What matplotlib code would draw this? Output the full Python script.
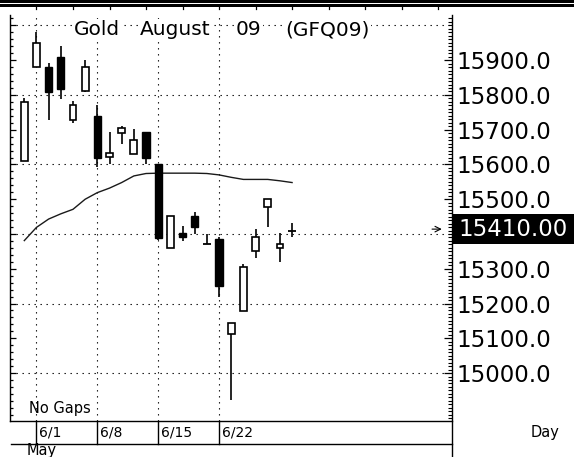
import matplotlib
matplotlib.use("Agg")
import matplotlib.pyplot as plt
from matplotlib.transforms import blended_transform_factory as btf, offset_copy
from matplotlib.lines import Line2D
from matplotlib.patches import Rectangle
import numpy as np

# ---------------- data ----------------
opens  = [15610, 15880, 15881, 15910, 15728, 15810, 15740, 15621, 15690, 15629, 15692, 15601,
          15361, 15402, 15452, 15371, 15385, 15112, 15179, 15351, 15479, 15361, 15410]
highs  = [15791, 15980, 15891, 15942, 15783, 15901, 15771, 15692, 15711, 15701, 15692, 15601,
          15452, 15423, 15464, 15400, 15392, 15143, 15313, 15414, 15501, 15402, 15433]
lows   = [15610, 15880, 15728, 15789, 15719, 15809, 15594, 15601, 15659, 15629, 15601, 15383,
          15361, 15380, 15400, 15371, 15220, 14922, 15179, 15330, 15419, 15320, 15391]
closes = [15781, 15950, 15809, 15818, 15771, 15880, 15620, 15632, 15704, 15671, 15620, 15388,
          15452, 15391, 15421, 15371, 15251, 15143, 15304, 15391, 15501, 15371, 15410]
ma     = [15381, 15419, 15443, 15458, 15471, 15500, 15519, 15532, 15548, 15567, 15574, 15575,
          15575, 15575, 15575, 15574, 15570, 15563, 15557, 15557, 15557, 15553, 15548]
date_labels = ["6/1", "6/8", "6/15", "6/22"]
date_idx = [1, 6, 11, 16]
ytick_vals = [15000, 15100, 15200, 15300, 15500, 15600, 15700, 15800, 15900]
last_price = 15410
title_words = ["Gold", "August", "09", "(GFQ09)"]
title_centers_px = [97, 175, 248.5, 327.5]

W, H = 574, 457
plt.rcParams['font.family'] = ['DejaVu Sans']

fig = plt.figure(figsize=(W / 100, H / 100), dpi=100)
fig.patch.set_facecolor('white')

def fx(p):
    return p / W

def fy(p):
    return (H - p) / H

ax = fig.add_axes([fx(10), fy(421), fx(452) - fx(10), fy(15) - fy(421)])
ax.set_xlim(-1.175, 35.14)
ax.set_ylim(14862, 16030)
ax.set_facecolor('white')

# dotted grid
dot = dict(color='black', lw=0.8, dashes=(1.2, 4.2), zorder=1)
for d in date_idx:
    ax.axvline(d, **dot)
for v in range(15000, 16001, 200):
    ax.axhline(v, **dot)

# candles
x = np.arange(len(opens))
o = np.array(opens, float); h = np.array(highs, float)
l = np.array(lows, float); c = np.array(closes, float)
ax.vlines(x, l, h, color='black', lw=1.2, zorder=2)
body_b = np.minimum(o, c)
body_h = np.abs(c - o)
doji = body_h == 0
up = (c > o) & ~doji
dn = (c < o) & ~doji
ax.bar(x[up], body_h[up], bottom=body_b[up], width=0.55, facecolor='white',
       edgecolor='black', lw=1.2, zorder=3)
ax.bar(x[dn], body_h[dn], bottom=body_b[dn], width=0.6, facecolor='black',
       edgecolor='black', lw=1.0, zorder=3)
ax.hlines(o[doji], x[doji] - 0.3, x[doji] + 0.3, color='black', lw=1.3, zorder=3)

# moving average
ax.plot(x, ma, color='#1a1a1a', lw=1.0, zorder=2)

# spines and ticks
ax.spines['top'].set_visible(False)
ax.spines['right'].set_visible(False)
for s in ('left', 'bottom'):
    ax.spines[s].set_linewidth(1.0)
ax.set_xticks([])
ax.set_yticks(np.arange(15000, 16001, 100))
ax.set_yticks(np.arange(14880, 16030, 20), minor=True)
ax.tick_params(axis='y', which='major', direction='in', length=4.5, width=0.9, labelleft=False)
ax.tick_params(axis='y', which='minor', direction='in', length=2.3, width=0.9)

ax2 = ax.twinx()
ax2.set_ylim(ax.get_ylim())
for s in ('top', 'left', 'bottom', 'right'):
    ax2.spines[s].set_visible(False)
ax2.set_yticks(ytick_vals)
ax2.set_yticklabels([f"{v:.1f}" for v in ytick_vals])
ax2.set_yticks(np.arange(14870, 16030, 10), minor=True)
ax2.tick_params(axis='y', which='major', direction='in', length=5.5, width=0.9,
                pad=3.5, labelsize=16.5)
ax2.tick_params(axis='y', which='minor', direction='in', length=2.8, width=0.8)

# right border line (extends to bottom)
fig.add_artist(Line2D([fx(452), fx(452)], [fy(15), 0], color='black', lw=1.0))

# last price box
tr = btf(ax.transAxes, ax.transData)
ax.add_patch(Rectangle((1.0, last_price - 39), 0.3, 87, transform=tr, facecolor='black',
                       edgecolor='none', clip_on=False, zorder=5))
ax.text(1.0 + 6 / 442, last_price + 4, f"{last_price:.2f}", transform=tr, color='white',
        fontsize=16.5, va='center', ha='left', zorder=6, clip_on=False)
ax.annotate('', xy=(34.3, last_price + 4), xytext=(33.5, last_price + 4),
            arrowprops=dict(arrowstyle='->', lw=0.8, color='black',
                            shrinkA=0, shrinkB=0), annotation_clip=False)

# title words with white background (dots show between words)
for w, cx in zip(title_words, title_centers_px):
    fig.text(fx(cx), fy(29.5), w, ha='center', va='center', fontsize=14.5,
             bbox=dict(facecolor='white', edgecolor='none', pad=0.8), zorder=10)

fig.text(fx(29), fy(409), "No Gaps", ha='left', va='center', fontsize=10.5)

# date row
trd = btf(ax.transData, fig.transFigure)
trd_off = offset_copy(trd, fig=fig, x=3, y=0, units='dots')
fig.add_artist(Line2D([fx(11), fx(452)], [fy(444), fy(444)], color='black', lw=1.0))
for d, lab in zip(date_idx, date_labels):
    fig.add_artist(Line2D([d, d], [fy(421), fy(444)], transform=trd, color='black', lw=1.0))
    ax.text(d, fy(432.5), lab, transform=trd_off, ha='left', va='center',
            fontsize=10, clip_on=False)
fig.text(fx(531), fy(432), "Day", ha='left', va='center', fontsize=10.5)
fig.text(fx(27), fy(450), "May", ha='left', va='center', fontsize=10.5)

# window header lines
fig.add_artist(Rectangle((0, fy(2.5)), 1, 2.5 / H, transform=fig.transFigure,
                         facecolor='black', edgecolor='none'))
fig.add_artist(Rectangle((0, fy(6.5)), 1, 2.5 / H, transform=fig.transFigure,
                         facecolor='black', edgecolor='none'))
for d in range(1, 35, 3):
    fig.add_artist(Line2D([d, d], [fy(7), fy(8.8)], transform=trd, color='black', lw=0.9))

fig.savefig("out.png", dpi=100, facecolor='white')
